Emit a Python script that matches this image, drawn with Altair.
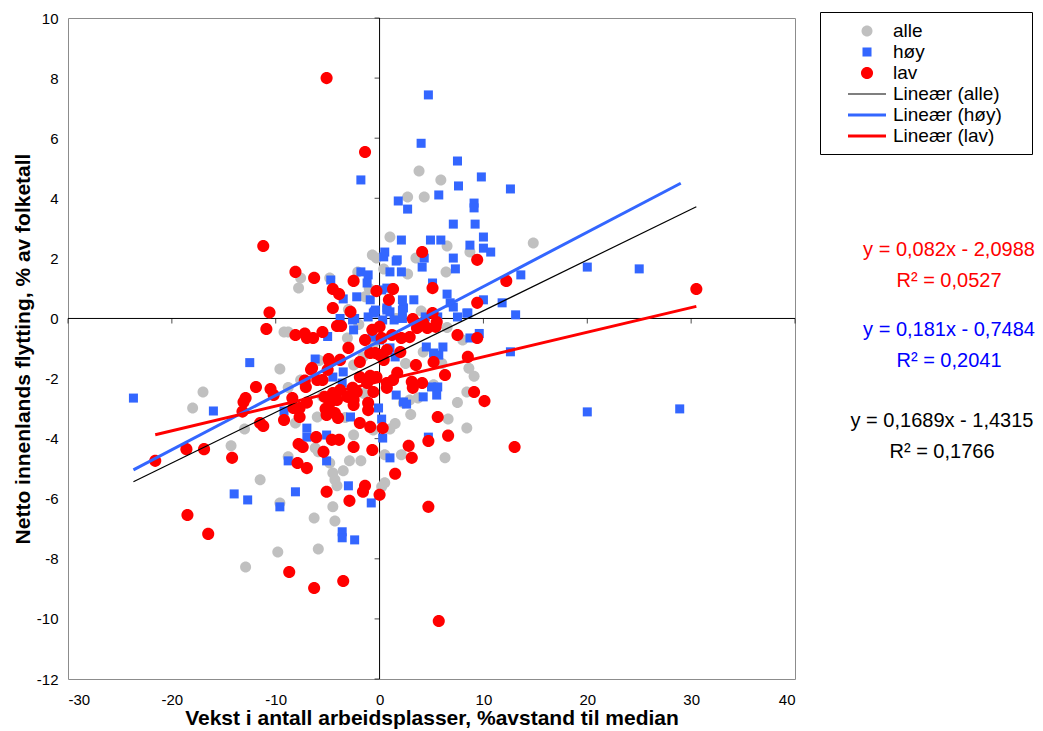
import altair as alt
import pandas as pd

# ---------------- data ----------------
alle_x = [-9.2, -8.8, -9.6, -17.0, -18.0, -7.6, -8.1, -13.0, -14.3, -8.8, -11.5, -9.6, -9.8, -12.9,
          2.7, 1.0, -0.7, -0.3, 0.4, -2.1, -7.6, -7.8, -4.8, -1.4,
          3.8, 5.9, 4.3, 14.8, 6.5, 8.7, 3.5, 6.4, 2.7, 4.0,
          -3.1, 8.0, 8.6, 9.1, 8.4, 3.7, 6.6, 8.4, 6.3, 2.1, 0.5,
          -6.0, -2.5, -6.2, -5.9, -4.8, -2.9, -1.8, -3.5, -4.5, -4.3, -4.1, 0.5, 0.2,
          -4.5, -6.3, -4.3, -5.9, -2.5, -1.6, 4.2, 5.2, -0.6, 1.0, 2.3, 2.9,
          -0.5, 2.5, -1.5, 3.0, -3.3, 1.5, -2.0, 6.0, 7.5, -5.8, -5.5, -1.0, 1.6, -3.0, 6.5, -8.8]
alle_y = [-0.45, -0.45, -1.68, -2.45, -2.98, -2.05, -3.48, -3.68, -4.24, -4.6, -5.37, -6.14, -7.77, -8.27,
          4.04, 2.71, 2.11, 2.01, 1.65, 1.55, 1.35, 1.01, 1.35, 0.72,
          4.91, 4.61, 4.04, 2.51, 2.41, 2.21, 2.01, 1.55, 1.48, 0.25,
          -0.65, -0.72, -1.66, -1.92, -2.45, -2.65, -3.35, -3.65, -4.64, -4.54, -4.54,
          -3.28, -3.88, -4.31, -4.44, -4.81, -4.74, -4.74, -5.07, -5.14, -5.37, -5.57, -5.47, -5.6,
          -6.27, -6.64, -6.74, -7.67, -1.55, -1.28, -1.12, -2.21, -3.71, -3.68, -2.81, -2.71,
          -0.8, -1.5, -2.5, -3.2, -3.3, -3.5, -0.2, -1.5, -2.8, -1.4, -2.6, 1.0, 0.0, 0.3, -0.3, -2.3]

hoy_x = [-12.5, -23.7, -16.0, -9.2, -7.0, -7.0, -8.8, -14.0, -12.7, -8.1, -9.6,
         -1.8, 1.8, 2.7, 2.1, 0.5, 0.4, 1.6, 1.0, 2.1, -1.8, -1.1, -4.7, -3.5, -2.2, -0.9, -1.2,
         0.7, 0.2, 2.2, 2.3, 0.7, 1.0, -0.5, -3.8, -2.4, -1.1,
         4.7, 4.0, 7.5, 9.8, 7.6, 12.6, 5.7, 9.1, 9.1, 7.1, 9.2, 10.0, 4.9, 5.9, 8.7, 10.0, 10.7,
         7.1, 7.3, 4.3, 4.1, 13.6, 1.7, 5.1, 6.5, 3.3, 10.0, 11.8, 6.8, 7.1, 13.1, 8.4, 7.5,
         2.2, 0.7, 0.3, -0.6,
         20.0, 25.0, 20.0, 28.9,
         -2.6, -2.5, 4.4, 5.6, 8.7, -0.7, 0.0, 1.0, 1.5, 4.5, 5.2, 5.7, -6.2, -4.5, -3.5, -3.6,
         12.6, 5.0, 2.3, 2.6, 1.6, 4.7, 1.0, -0.1, 0.2, 0.3, -5.1, -5.1, -3.0, -0.8, -3.6, -3.6,
         -2.4, -2.8, 2.2, 1.4, -0.4, 8.5, 6.1, 5.6, 4.2, 5.5, -5.0, 9.6]
hoy_y = [-1.47, -2.65, -3.08, -3.08, -3.65, -3.95, -4.74, -5.84, -6.04, -5.77, -6.27,
         4.61, 3.91, 3.64, 2.61, 2.21, 2.05, 1.91, 1.55, 1.55, 1.55, 1.45, 1.28, 0.65, 0.72, 0.62, 1.18,
         1.01, 0.95, 0.62, 0.35, 0.35, 0.22, 0.22, 0.0, 0.0, 0.05,
         7.44, 5.83, 5.24, 4.71, 4.41, 4.31, 4.11, 3.84, 3.68, 3.14, 3.14, 2.71, 2.61, 2.61, 2.44, 2.34, 2.21,
         2.01, 1.65, 2.01, 1.71, 1.45, 1.95, 1.18, 0.81, 0.62, 0.62, 0.52, 0.52, 0.38, 0.12, 0.18, 0.05,
         0.0, 0.28, -0.05, 0.18,
         1.71, 1.65, -3.11, -3.01,
         -0.05, -0.38, 0.05, 0.05, -0.65, -0.62, -0.72, -0.98, -1.28, -0.95, -1.15, -1.22, -1.35, -1.95, -1.78, -2.15,
         -1.11, -2.28, -2.78, -2.85, -2.55, -3.95, -4.64, -2.98, -3.35, -3.98, -3.88, -4.74, -5.57, -6.14, -7.1, -7.3,
         -7.37, -3.28, 0.28, -0.05, 0.28, 0.18, -0.95, -2.28, -2.61, -2.55, -0.6, -0.5]

lav_x = [-10.6, -10.9, -8.1, -7.2, -7.0, -6.6, -11.9, -10.5, -10.2, -12.9, -13.1, -13.2, -7.2, -8.4,
         -8.3, -7.7, -7.7, -9.2, -7.0, -11.5, -11.2, -18.6, -16.9, -21.6, -14.2, -7.8, -7.4, -7.9, -7.0,
         -18.5, -16.5, -8.7, -6.3,
         -5.1, -1.4, -11.2, -8.1, -6.3, -2.5, -4.5, -3.9, -0.3, 1.3, 0.9, -4.5, -2.8,
         4.1, 9.4, 12.2, 5.1, 9.4, 5.1, 5.5, 3.2, 3.7, 0.0, 30.5,
         -6.4, -5.5, -4.1, -3.7, -0.7, 1.2, 2.1, 3.6, 4.6, 4.2, 5.4, 7.5, 9.4, -3.0, -1.4, 0.2,
         -0.9, 0.0, 0.7, 0.4, 2.0, 2.9, -4.9, -3.8, -6.5, -6.0, -7.1, -1.9, -0.9, -0.3, -1.2,
         0.7, 1.3, 1.7, 3.1, 4.1, 3.5, 5.2, 6.3, 8.5, 9.1, 10.1, 5.6, 6.6, 4.7, 2.8, 13.0, 3.1,
         1.5, 0.3, -1.9, -0.9, -2.5, -0.7, -5.2, -5.1, -4.3, -4.1, -4.5, -3.8, -3.1, -2.5, -2.2,
         -2.5, -1.1, -0.6, -6.1, -4.6, -3.9, -5.4,
         -5.5, -5.0, -4.8, -1.9, -2.6, -4.8, -5.3, -4.0, -1.1, -0.4, 0.7, 3.2,
         -5.1, -1.4, -1.6, -2.9, 0.0, 4.7, -3.5, 5.7]
lav_y = [0.2, -0.35, -0.55, -0.5, -0.65, -1.7, -2.28, -2.35, -2.55, -2.65, -2.78, -3.1, -2.07, -2.65,
         -2.98, -2.98, -3.28, -3.38, -2.8, -3.48, -3.58, -4.35, -4.35, -4.74, -4.64, -4.18, -4.28, -4.81, -4.98,
         -6.54, -7.17, -8.44, -8.97,
         8.0, 5.54, 2.41, 1.55, 1.35, 1.25, 0.98, 0.81, 0.91, 0.98, 0.62, 0.35, 0.22,
         2.21, 1.95, 1.25, 1.01, 0.52, 0.18, -0.12, -0.02, -0.28, -0.28, 0.98,
         -0.65, -0.45, -0.25, -0.25, -0.38, -0.55, -0.65, -0.32, -0.32, -0.15, -0.28, -0.55, -0.65, -0.98, -0.72, -0.65,
         -1.15, -1.22, -1.05, -1.38, -1.12, -0.62, -1.35, -1.38, -1.65, -2.05, -2.28, -1.95, -1.91, -1.95, -2.15,
         -2.15, -2.05, -1.81, -2.11, -2.15, -1.55, -1.45, -1.88, -1.28, -2.45, -2.75, -3.28, -3.9, -4.08, -4.24, -4.28, -4.64,
         -5.17, -3.65, -3.48, -3.61, -4.28, -4.38, -3.01, -3.21, -3.15, -2.71, -2.48, -2.38, -2.61, -2.71, -2.45,
         -2.88, -2.81, -2.45, -3.95, -4.04, -4.04, -4.44,
         -2.05, -1.71, -1.45, -1.45, -2.31, -2.81, -2.61, -3.31, -3.05, -1.15, -2.31, -2.31,
         -5.77, -5.57, -5.77, -6.07, -5.87, -6.27, -8.74, -10.07]

series_names = ["alle", "høy", "lav"]
trend_names = ["Lineær (alle)", "Lineær (høy)", "Lineær (lav)"]
slopes = [0.1689, 0.181, 0.082]
intercepts = [-1.4315, -0.7484, -2.0988]
r_squared = [0.1766, 0.2041, 0.0527]
trend_x_start = [-23.7, -23.7, -21.6]
trend_x_end = [30.5, 29.0, 30.5]

x_ticks = [-30, -20, -10, 0, 10, 20, 30, 40]
y_ticks = [-12, -10, -8, -6, -4, -2, 0, 2, 4, 6, 8, 10]

# ---------------- styles ----------------
FONT = "Liberation Sans"
point_colors = ["#C0C0C0", "#3366FF", "#FF0000"]
trend_colors = ["#000000", "#3366FF", "#FF0000"]
trend_widths = [1.2, 3, 3]
text_colors = ["#000000", "#0000FF", "#FF0000"]
SYM = 484  # symbol box 22 px


def circle(r):
    return f"M{r},0A{r},{r} 0 1,1 {-r},0A{r},{r} 0 1,1 {r},0Z"


def square(h):
    return f"M{-h},{-h}L{h},{-h}L{h},{h}L{-h},{h}Z"


def hline(length, t):
    return f"M{-length},{-t}L{length},{-t}L{length},{t}L{-length},{t}Z"


shapes = [circle(0.5), square(0.41), circle(0.55),
          hline(1.727, 0.055), hline(1.727, 0.136), hline(1.727, 0.136)]
legend_domain = series_names + trend_names
legend_colors = point_colors + trend_colors

# ---------------- frames ----------------
pts = pd.concat([
    pd.DataFrame({"x": alle_x, "y": alle_y, "series": "alle"}),
    pd.DataFrame({"x": hoy_x, "y": hoy_y, "series": "høy"}),
    pd.DataFrame({"x": lav_x, "y": lav_y, "series": "lav"}),
], ignore_index=True)

rows = []
for n, a, b, x0, x1 in zip(trend_names, slopes, intercepts, trend_x_start, trend_x_end):
    rows.append({"trend": n, "x": x0, "y": a * x0 + b})
    rows.append({"trend": n, "x": x1, "y": a * x1 + b})
trend_df = pd.DataFrame(rows)

xscale = alt.Scale(domain=[-30, 40], nice=False, zero=False)
yscale = alt.Scale(domain=[-12, 10], nice=False, zero=False)
X = alt.X("x:Q", scale=xscale,
          axis=alt.Axis(values=x_ticks, title="Vekst i antall arbeidsplasser, %avstand til median",
                        labelExpr="toString(datum.value)", labelPadding=13, titlePadding=0))
Y = alt.Y("y:Q", scale=yscale,
          axis=alt.Axis(values=y_ticks, title="Netto innenlands flytting, % av folketall",
                        labelExpr="toString(datum.value)", labelPadding=10, titlePadding=3))

zero_x = alt.Chart(pd.DataFrame({"x": [0]})).mark_rule(color="black", strokeWidth=1).encode(x=X)
zero_y = alt.Chart(pd.DataFrame({"y": [0]})).mark_rule(color="black", strokeWidth=1).encode(y=Y)
xt = alt.Chart(pd.DataFrame({"x": x_ticks, "y": [0] * len(x_ticks)})).mark_tick(
    orient="vertical", size=5, thickness=1, color="black", yOffset=2.5).encode(x=X, y=Y)
yt = alt.Chart(pd.DataFrame({"x": [0] * len(y_ticks), "y": y_ticks})).mark_tick(
    orient="horizontal", size=5, thickness=1, color="black", xOffset=-2.5).encode(x=X, y=Y)

# invisible (white) spacer title on the right widens the legend frame like the reference box
leg = alt.Legend(title="__", titleOrient="right", titleFontSize=19, titlePadding=0,
                 titleColor="white", titleFont=FONT,
                 orient="none", legendX=752, legendY=-6, padding=8,
                 rowPadding=0, symbolSize=SYM, symbolOffset=28, labelOffset=15,
                 labelFontSize=19, labelFont=FONT, labelColor="black",
                 strokeColor="#000000", fillColor="white", symbolStrokeWidth=0)

points = alt.Chart(pts).mark_point(filled=True, size=SYM, opacity=1).encode(
    x=X, y=Y,
    color=alt.Color("series:N", scale=alt.Scale(domain=legend_domain, range=legend_colors), legend=leg),
    shape=alt.Shape("series:N", scale=alt.Scale(domain=legend_domain, range=shapes), legend=leg),
)

lines = []
for n, c, w in zip(trend_names, trend_colors, trend_widths):
    lines.append(alt.Chart(trend_df).transform_filter(alt.datum.trend == n)
                 .mark_line(color=c, strokeWidth=w).encode(x=X, y=Y))


def fmt(v):
    return str(v).replace(".", ",")


texts = []
eq_pos = [(874, 409, 440), (881, 318, 349), (881, 238, 269)]  # black, blue, red
for a, b, r2, col, (px, py1, py2) in zip(slopes, intercepts, r_squared, text_colors, eq_pos):
    eq = f"y = {fmt(a)}x - {fmt(abs(b))}"
    rr = f"R² = {fmt(r2)}"
    for t, py in ((eq, py1), (rr, py2)):
        texts.append(alt.Chart(pd.DataFrame({"t": [t]})).mark_text(
            font=FONT, fontSize=20, color=col, align="center", baseline="alphabetic"
        ).encode(text="t:N", x=alt.value(px), y=alt.value(py)))

chart = alt.layer(zero_x, zero_y, xt, yt, points, *lines, *texts).properties(
    width=727, height=661,
    autosize=alt.AutoSizeParams(type="none"),
    padding={"left": 60, "top": 10, "right": 240, "bottom": 52},
).configure_view(stroke="#8C8C8C", strokeWidth=1).configure_axis(
    grid=False, domain=False, ticks=False, labelFont=FONT, labelFontSize=15, labelColor="black",
    titleFont=FONT, titleFontSize=21, titleFontWeight="bold", titleColor="black",
)

chart.save("out.html", embed_options={"renderer": "svg", "actions": False})
